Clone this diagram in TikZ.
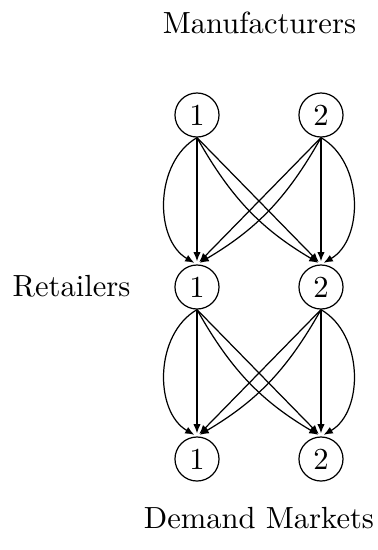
\documentclass[tikz,border=0pt]{standalone}
\usetikzlibrary{arrows.meta}
\begin{document}
\begin{tikzpicture}[x=0.327pt,y=-0.327pt,
  netnode/.style={circle,draw,minimum size=14.4pt,inner sep=0pt},
  flow/.style={-{Latex[length=3pt,width=2.4pt]},shorten >=1pt},
  lbl/.style={inner sep=0pt}]
\useasboundingbox (0,0) rectangle (378,550);
\node[netnode] (m1) at (197,115) {1};
\node[netnode] (m2) at (321,115) {2};
\node[netnode] (r1) at (197,287) {1};
\node[netnode] (r2) at (321,287) {2};
\node[netnode] (d1) at (197,459) {1};
\node[netnode] (d2) at (321,459) {2};
\node[lbl,anchor=base] (tm) at (259.5,33) {Manufacturers};
\node[lbl,anchor=base west] (tr) at (12,296) {Retailers};
\node[lbl,anchor=base] (td) at (259,528) {Demand Markets};
\foreach \a/\b/\c/\d in {m1/m2/r1/r2, r1/r2/d1/d2}{
  \draw[flow] (\a.south) -- (\c.north);
  \draw[flow] (\a.south) to[bend right=60] (\c.north);
  \draw[flow] (\a.south) -- (\d.north);
  \draw[flow] (\a.south) to[bend right=15] (\d.north);
  \draw[flow] (\b.south) -- (\d.north);
  \draw[flow] (\b.south) to[bend left=60] (\d.north);
  \draw[flow] (\b.south) -- (\c.north);
  \draw[flow] (\b.south) to[bend left=15] (\c.north);
}
\end{tikzpicture}
\end{document}
